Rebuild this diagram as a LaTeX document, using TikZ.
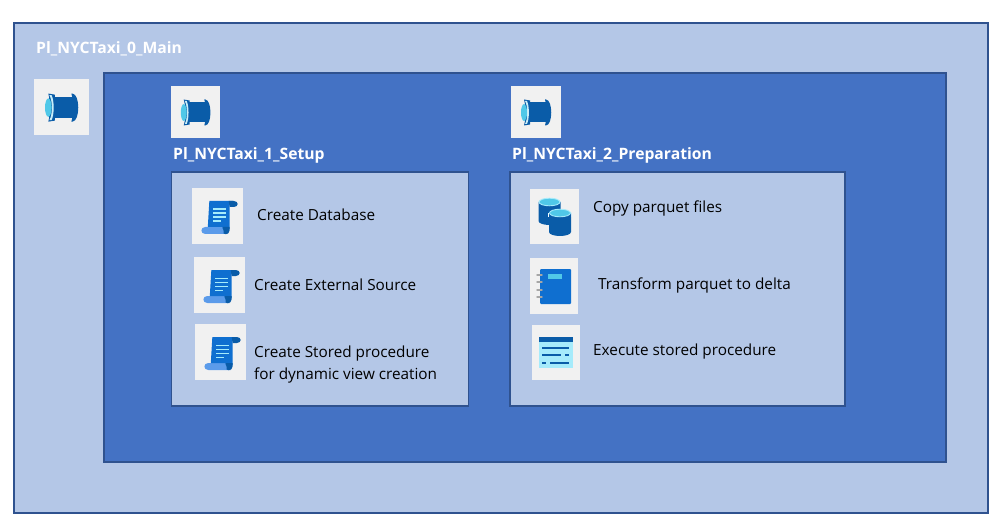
\documentclass[tikz,border=0pt]{standalone}
\usepackage{fontspec}
\setmainfont{Open Sans}
\definecolor{pale}{HTML}{B4C7E7}
\definecolor{mid}{HTML}{4472C4}
\definecolor{edge}{HTML}{2F528F}
\definecolor{tile}{HTML}{F1F1F1}
\definecolor{ibluedark}{HTML}{0A5CA8}
\definecolor{iblue}{HTML}{0F6FD0}
\definecolor{ilight}{HTML}{5B9BEA}
\definecolor{icyan}{HTML}{50C8E8}
\definecolor{ipale}{HTML}{A6EBFB}
\tikzset{
  x=1pt,y=-1pt,
  txt/.style={anchor=west,inner sep=0pt,text=black,font=\fontsize{15.3}{22}\selectfont,align=left},
  head/.style={anchor=west,inner sep=0pt,text=white,font=\fontsize{15.7}{19}\selectfont\bfseries},
  pipe/.pic={
    \fill[tile] (0,0) rectangle (50,52);
    \fill[ibluedark] (14,16.5) -- (36,16.5) -- (36,36.5) -- (14,36.5) -- cycle;
    \fill[ibluedark] (35,13.5) .. controls (42,14) and (42,39) .. (35,39.5) -- (34,39.5) .. controls (36,32) and (36,21) .. (34,13.5) -- cycle;
    \fill[ibluedark] (13,13.5) -- (19,14.5) -- (19,18) -- (14,18) -- cycle;
    \fill[ibluedark] (13,39.5) -- (19,38.5) -- (19,35) -- (14,35) -- cycle;
    \fill[white!70!icyan] (14,15) .. controls (17,20) and (17,33) .. (14,38) -- (16,38) .. controls (18.5,33) and (18.5,20) .. (16,15) -- cycle;
    \fill[icyan] (13,26.5) ellipse [x radius=3,y radius=8.5];
  },
  scrollicon/.pic={
    \fill[tile] (0,0) rectangle (50,56);
    \fill[ilight] (13,39) -- (35,39) -- (35,46) -- (13,46) .. controls (8,46) and (8,39) .. (13,39) -- cycle;
    \fill[iblue] (17,13) -- (40,13) -- (37,17) -- (37,41) -- (30,41) -- (30,39) -- (15.5,39) -- cycle;
    \fill[ibluedark] (36,13) -- (41,13) .. controls (46,13) and (46,19) .. (41,19) -- (37,19) -- cycle;
    \fill[ibluedark] (30,39) -- (37,39) -- (37,42) .. controls (37,47.5) and (29,47.5) .. (31,43) -- cycle;
    \foreach \yy/\xx in {20.5/33,24.5/33,28.5/33,32.5/28}
      \fill[ipale] (21,\yy) rectangle (\xx,\yy+1.4);
  },
  dbicon/.pic={
    \fill[tile] (0,0) rectangle (49,55);
    \fill[ibluedark] (8.5,13) -- (8.5,32) arc[start angle=180,end angle=0,x radius=11,y radius=4] -- (30.5,13) -- cycle;
    \fill[icyan,draw=ipale,line width=.9pt] (19.5,13) ellipse [x radius=10.5,y radius=3.8];
    \fill[white!85!ipale] (18,24) -- (42,24) -- (42,28) -- (18,28) -- cycle;
    \fill[ibluedark] (19,24) -- (19,43) arc[start angle=180,end angle=0,x radius=11,y radius=4] -- (41,24) -- cycle;
    \fill[icyan,draw=ipale,line width=.9pt] (30,24) ellipse [x radius=10.5,y radius=3.8];
  },
  bookicon/.pic={
    \fill[tile] (0,0) rectangle (48,56);
    \fill[iblue,rounded corners=1pt] (10,11) rectangle (41,46);
    \fill[icyan] (18,16) rectangle (32,21);
    \foreach \yy in {17,24,32,39}
      \draw[gray!70!white,line width=1.4pt,line cap=round] (7,\yy) -- (12,\yy);
  },
  tableicon/.pic={
    \fill[tile] (0,0) rectangle (48,55);
    \fill[ipale] (7,12) rectangle (41,43);
    \fill[ibluedark] (7,11.5) rectangle (41,17);
    \foreach \aa/\bb/\yy in {10/37/21.5,10/29/29,33/37/29,10/14/36.5,18/37/36.5}
      \fill[ibluedark] (\aa,\yy) rectangle (\bb,\yy+2.2);
  }
}
\begin{document}
\begin{tikzpicture}[x=1pt,y=-1pt]
\useasboundingbox (0,0) rectangle (1005,532);
\fill[white] (0,0) rectangle (1005,532);
\draw[edge,line width=1.2pt,fill=pale] (14,23) rectangle (988,513);
\draw[edge,line width=1.2pt,fill=mid] (104,73) rectangle (946,462);
\draw[edge,line width=1.2pt,fill=pale] (171.5,172) rectangle (468.5,406);
\draw[edge,line width=1.2pt,fill=pale] (510,172) rectangle (845,406);
\pic[xscale=1.1,yscale=1.08] at (34,79) {pipe};
\pic[xscale=.98,yscale=1] at (171,86) {pipe};
\pic[xscale=1,yscale=1] at (511,86) {pipe};
\pic[xscale=1.02] at (192,188) {scrollicon};
\pic[xscale=1.02] at (194,257) {scrollicon};
\pic[xscale=1.02] at (195,324) {scrollicon};
\pic at (530,189) {dbicon};
\pic at (530,258) {bookicon};
\pic at (532,325) {tableicon};
\node[head] (main) at (36,48.5) {Pl\_NYCTaxi\_0\_Main};
\node[head] (setup) at (173,155.5) {Pl\_NYCTaxi\_1\_Setup};
\node[head] (prep) at (512,155.5) {Pl\_NYCTaxi\_2\_Preparation};
\node[txt] (t1) at (257,215) {Create Database};
\node[txt] (t2) at (254,285) {Create External Source};
\node[txt] (t3) at (254,364.5) {Create Stored procedure\\for dynamic view creation};
\node[txt] (t4) at (593,208) {Copy parquet files};
\node[txt] (t5) at (598,285) {Transform parquet to delta};
\node[txt] (t6) at (593,352) {Execute stored procedure};
\end{tikzpicture}
\end{document}
